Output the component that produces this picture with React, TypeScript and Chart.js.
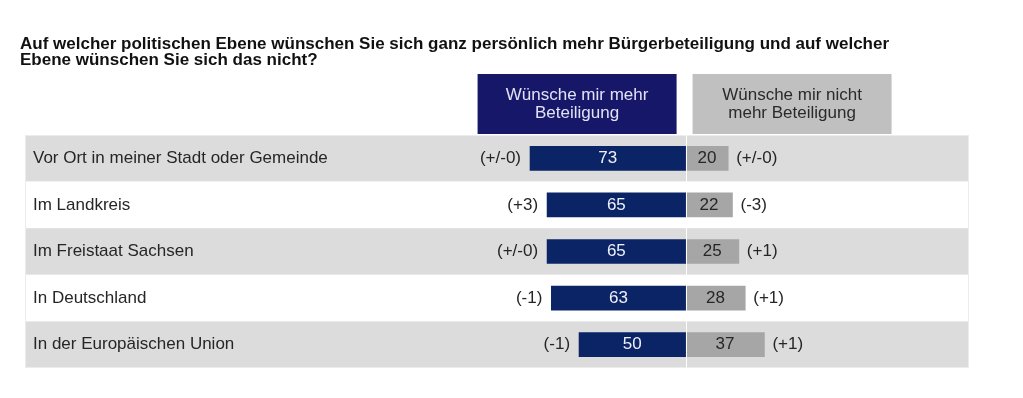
import React, { useEffect, useRef } from "react";
import { Chart, registerables } from "chart.js";

Chart.register(...registerables);

const titleLines = [
  "Auf welcher politischen Ebene wünschen Sie sich ganz persönlich mehr Bürgerbeteiligung und auf welcher",
  "Ebene wünschen Sie sich das nicht?",
];
const categories = [
  "Vor Ort in meiner Stadt oder Gemeinde",
  "Im Landkreis",
  "Im Freistaat Sachsen",
  "In Deutschland",
  "In der Europäischen Union",
];
const mehrValues = [73, 65, 65, 63, 50];
const nichtValues = [20, 22, 25, 28, 37];
const mehrChanges = ["(+/-0)", "(+3)", "(+/-0)", "(-1)", "(-1)"];
const nichtChanges = ["(+/-0)", "(-3)", "(+1)", "(+1)", "(+1)"];
const mehrHeader = ["Wünsche mir mehr", "Beteiligung"];
const nichtHeader = ["Wünsche mir nicht", "mehr Beteiligung"];

const FONT = "'Liberation Sans', Arial, sans-serif";
const NAVY_BAR = "#0b2466";
const NAVY_HEAD = "#17176a";
const GRAY_BAR = "#a6a6a6";
const GRAY_HEAD = "#c0c0c0";
const ROW_GRAY = "#dcdcdc";
const TEXT = "#262626";

const decorPlugin = {
  id: "decor",
  beforeDraw(chart: any) {
    const ctx = chart.ctx;
    const { left, right, top, bottom } = chart.chartArea;
    const xs = chart.scales.x;
    const ys = chart.scales.y;
    ctx.save();
    ctx.fillStyle = "#ffffff";
    ctx.fillRect(0, 0, chart.width, chart.height);

    // title
    ctx.fillStyle = "#111111";
    ctx.font = `bold 17px ${FONT}`;
    ctx.textAlign = "left";
    ctx.textBaseline = "alphabetic";
    titleLines.forEach((t, i) => ctx.fillText(t, 20, 48.5 + i * 16));

    // header boxes
    const c = xs.getPixelForValue(0);
    const boxTop = 74;
    const boxH = 60;
    const boxW = 199;
    const drawBox = (x0: number, fill: string, color: string, lines: string[]) => {
      ctx.fillStyle = fill;
      ctx.fillRect(x0, boxTop, boxW, boxH);
      ctx.fillStyle = color;
      ctx.font = `17px ${FONT}`;
      ctx.textAlign = "center";
      ctx.textBaseline = "middle";
      lines.forEach((l, i) => ctx.fillText(l, x0 + boxW / 2, boxTop + 21 + i * 18));
    };
    drawBox(c - 208, NAVY_HEAD, "#e2e2f6", mehrHeader);
    drawBox(c + 7, GRAY_HEAD, "#2a2a2a", nichtHeader);

    // row bands
    const band = (bottom - top) / categories.length;
    categories.forEach((_, i) => {
      const yc = ys.getPixelForValue(i);
      ctx.fillStyle = i % 2 === 0 ? ROW_GRAY : "#ffffff";
      ctx.fillRect(left, yc - band / 2, right - left, band);
    });
    ctx.strokeStyle = "#ececec";
    ctx.lineWidth = 1;
    ctx.strokeRect(left + 0.5, top + 0.5, right - left - 1, bottom - top - 1);
    ctx.restore();
  },
  afterDatasetsDraw(chart: any) {
    const ctx = chart.ctx;
    const { top, bottom } = chart.chartArea;
    const xs = chart.scales.x;
    const c = xs.getPixelForValue(0);
    ctx.save();
    ctx.strokeStyle = "#ffffff";
    ctx.lineWidth = 1;
    ctx.beginPath();
    ctx.moveTo(Math.round(c) + 0.5, top);
    ctx.lineTo(Math.round(c) + 0.5, bottom);
    ctx.stroke();

    ctx.font = `17px ${FONT}`;
    ctx.textBaseline = "middle";
    const m0 = chart.getDatasetMeta(0);
    const m1 = chart.getDatasetMeta(1);
    m0.data.forEach((bar: any, i: number) => {
      const mid = (bar.x + bar.base) / 2;
      ctx.fillStyle = "#eef0fa";
      ctx.textAlign = "center";
      ctx.fillText(String(mehrValues[i]), mid, bar.y);
      ctx.fillStyle = TEXT;
      ctx.textAlign = "right";
      ctx.fillText(mehrChanges[i], Math.min(bar.x, bar.base) - 9, bar.y);
    });
    m1.data.forEach((bar: any, i: number) => {
      const mid = (bar.x + bar.base) / 2;
      ctx.fillStyle = TEXT;
      ctx.textAlign = "center";
      ctx.fillText(String(nichtValues[i]), mid, bar.y);
      ctx.textAlign = "left";
      ctx.fillText(nichtChanges[i], Math.max(bar.x, bar.base) + 8, bar.y);
    });
    ctx.restore();
  },
};

export default function App() {
  const ref = useRef<HTMLCanvasElement | null>(null);
  useEffect(() => {
    if (!ref.current) return;
    const chart = new Chart(ref.current, {
      type: "bar",
      data: {
        labels: categories,
        datasets: [
          {
            label: mehrHeader.join(" "),
            data: mehrValues.map((v) => -v),
            backgroundColor: NAVY_BAR,
            barThickness: 24,
          },
          {
            label: nichtHeader.join(" "),
            data: nichtValues,
            backgroundColor: GRAY_BAR,
            barThickness: 24,
          },
        ],
      },
      options: {
        indexAxis: "y",
        responsive: false,
        animation: false,
        layout: { padding: { left: 25, right: 54, top: 135, bottom: 30 } },
        plugins: {
          legend: { display: false },
          tooltip: { enabled: false },
          title: { display: false },
        },
        scales: {
          x: {
            type: "linear",
            stacked: true,
            min: -310,
            max: 133,
            display: false,
          },
          y: {
            stacked: true,
            grid: { display: false, drawTicks: false },
            border: { display: false },
            afterFit: (scale: any) => {
              scale.width = 0;
            },
            ticks: {
              mirror: true,
              padding: 8,
              color: TEXT,
              font: { family: FONT, size: 17 },
            },
          },
        },
      },
      plugins: [decorPlugin],
    } as any);
    return () => chart.destroy();
  }, []);
  return (
    <canvas
      ref={ref}
      width={1023}
      height={398}
      style={{ position: "absolute", left: 0, top: 0, display: "block" }}
    />
  );
}
